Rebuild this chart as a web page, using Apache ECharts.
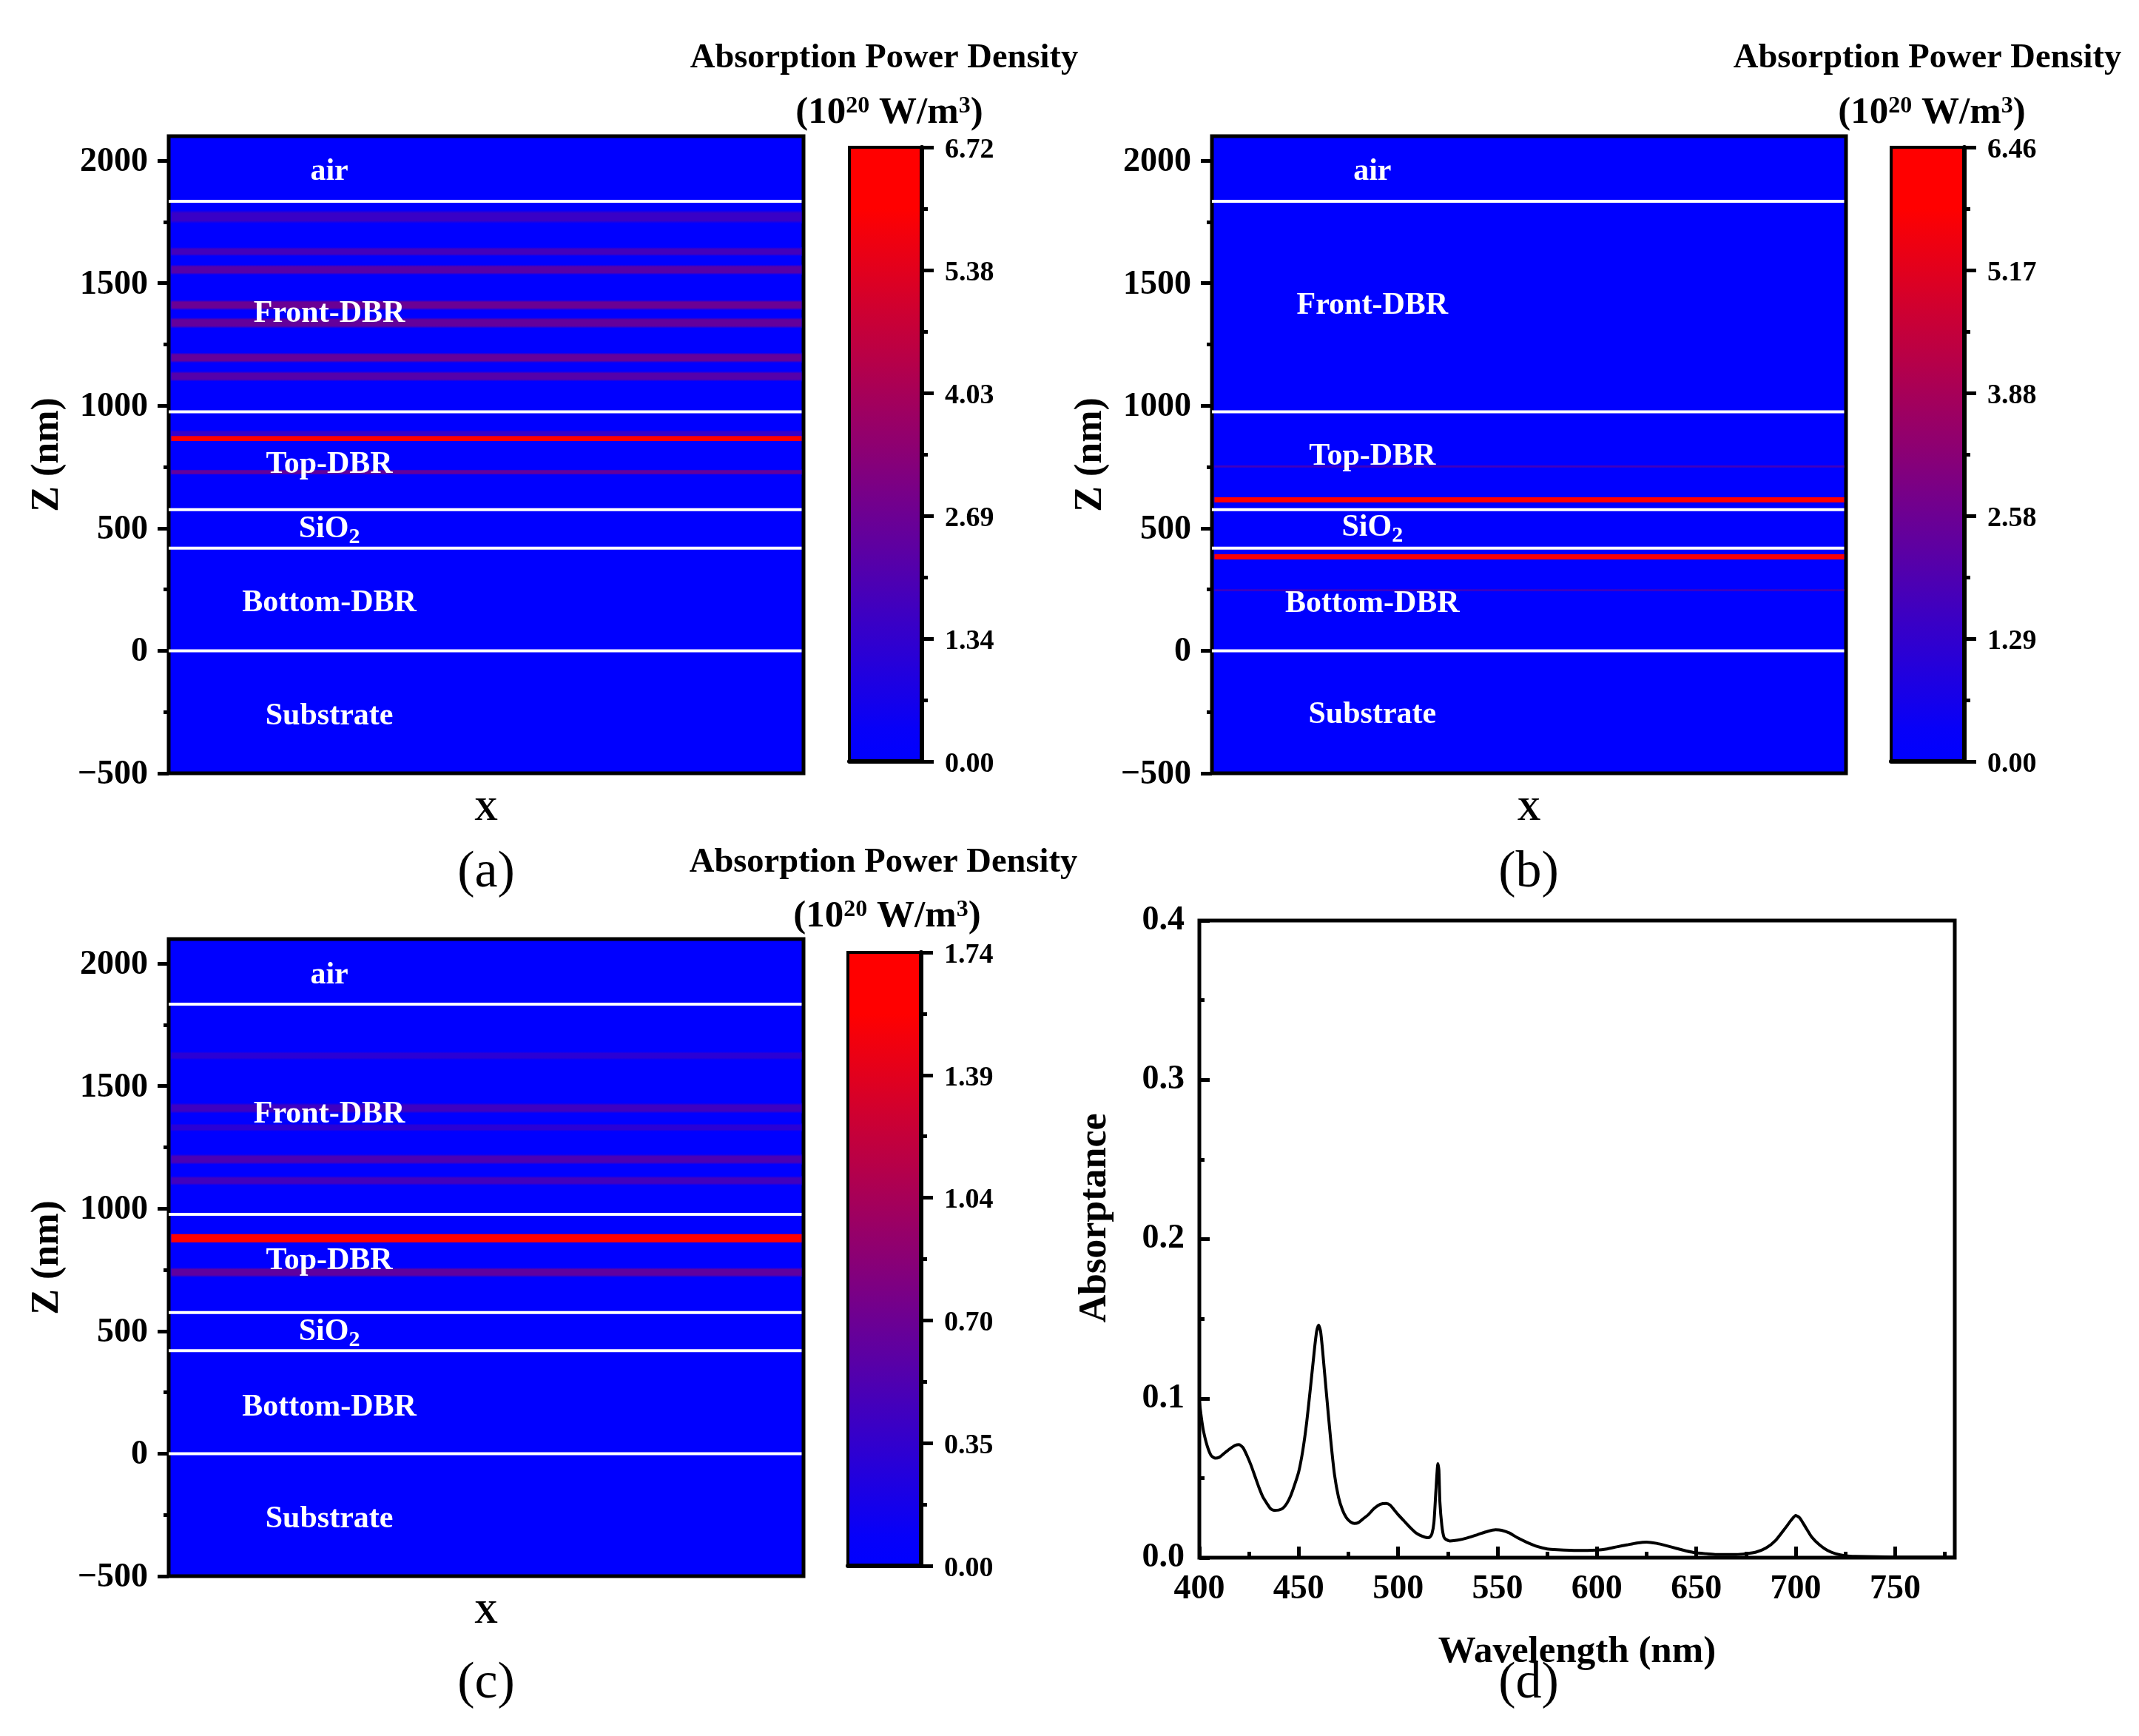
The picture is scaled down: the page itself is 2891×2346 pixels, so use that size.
<!DOCTYPE html>
<html><head><meta charset="utf-8">
<style>html,body{margin:0;padding:0;background:#fff;overflow:hidden}#c{width:2891px;height:2346px}</style>
<script src="https://cdn.jsdelivr.net/npm/echarts@6/dist/echarts.min.js"></script>
</head><body><div id="c"></div>
<script>
// ---------- data ----------
const zMajorTicks = [-500, 0, 500, 1000, 1500, 2000];
const zMinorTicks = [-250, 250, 750, 1250, 1750];
const interfacesA = [1834, 975, 576, 419, 0];
const interfacesB = [1834, 975, 576, 419, 0];
const interfacesC = [1834, 977, 576, 420, 0];

const layerNames = ['air', 'Front-DBR', 'Top-DBR', '{b|SiO}{s|2}', 'Bottom-DBR', 'Substrate'];
const layerZA = [1956, 1374, 760, 497, 195, -269];
const layerZB = [1956, 1409, 793, 503, 190, -261];
const layerZC = [1952, 1383, 787, 496, 189, -267];

const bandZA = [1771, 1629, 1555, 1411, 1338, 1196, 1120, 885, 866, 729];
const bandThickA = [54, 36, 42, 42, 44, 42, 42, 30, 20, 22];
const bandValueA = [1.5, 1.75, 2.2, 2.65, 2.5, 2.5, 2.15, 1.4, 6.72, 2.5];

const bandZB = [752, 616, 383, 247];
const bandThickB = [10, 21, 21, 10];
const bandValueB = [1.6, 6.46, 5.7, 1.5];

const bandZC = [1624, 1410, 1331, 1201, 1114, 879, 740];
const bandThickC = [34, 42, 32, 42, 38, 34, 40];
const bandValueC = [0.3, 0.42, 0.3, 0.5, 0.44, 1.74, 0.62];

const maxA = 6.72, maxB = 6.46, maxC = 1.74;

const wavelength = [400,401,402,404,406,408,410,412,415,418,420,422,424,426,428,430,432,434,436,438,440,442,444,446,448,450,452,454,456,458,459,460,461,462,464,466,468,470,472,474,476,478,480,482,485,488,491,494,496,498,500,503,506,509,512,515,516,517,518,519,520,520.5,521,522,523,524,526,530,535,540,545,549,552,556,560,565,570,575,580,590,600,605,610,615,620,625,630,635,640,645,650,655,660,670,675,680,685,690,695,698,700,702,705,708,712,716,720,725,730,750,780];
const absorptance = [.098,.088,.08,.07,.064,.0625,.063,.065,.068,.0705,.071,.069,.064,.058,.051,.044,.038,.034,.0305,.0297,.0299,.031,.034,.039,.046,.054,.067,.085,.108,.132,.142,.146,.142,.13,.102,.075,.052,.038,.03,.025,.0225,.0215,.022,.024,.027,.031,.0335,.034,.033,.03,.027,.023,.019,.0155,.0135,.0125,.013,.015,.022,.042,.059,.055,.035,.02,.013,.0115,.0105,.011,.0125,.0145,.0165,.0175,.0172,.0155,.0125,.0095,.007,.0055,.005,.0045,.0048,.0055,.0068,.008,.0092,.0098,.009,.0075,.0058,.0042,.003,.0025,.002,.002,.0025,.0035,.006,.011,.019,.024,.0265,.025,.019,.013,.008,.0045,.0025,.0012,.0008,.0004,.0003];
const wlMajorTicks = [400,450,500,550,600,650,700,750];
const wlMinorTicks = [425,475,525,575,625,675,725,775];
const absMajorTicks = [0,0.1,0.2,0.3,0.4];
const absMinorTicks = [0.05,0.15,0.25,0.35];

// ---------- styling ----------
const SERIF = '"Liberation Serif","Times New Roman",serif';
const stripX = [0.004, 0.997];
function mapColor(t){
  const f = Math.max(0, Math.min(1, (t - 0.03) / 0.87));
  const r = Math.round(255 * f);
  return 'rgb(' + r + ',0,' + (255 - r) + ')';
}
const BLUE = mapColor(0);
const grids = [], xAxes = [], yAxes = [], series = [], titles = [];
const tickCommon = {lineStyle:{color:'#000',width:5}};

function titleText(text, x, y, style){
  titles.push({text:text, left:x, top:y, textAlign:'center', textVerticalAlign:'middle',
    textStyle:Object.assign({fontFamily:SERIF,color:'#000',fontWeight:'bold'}, style)});
}

function hiddenAxisBase(){ return {axisLine:{show:false},splitLine:{show:false},axisLabel:{show:false},axisTick:{show:false},z:3}; }

function addFieldPanel(o){
  const gi = grids.length;
  grids.push({left:o.left, top:o.top, width:o.w, height:o.h, show:true, backgroundColor:BLUE,
    borderColor:'#000', borderWidth:5});
  const xi = xAxes.length, yi = yAxes.length;
  xAxes.push(Object.assign(hiddenAxisBase(), {gridIndex:gi,type:'value',min:0,max:1,name:'X',nameLocation:'middle',
    nameGap:30, nameTextStyle:{fontFamily:SERIF,fontWeight:'bold',fontSize:44,color:'#000'}}));
  yAxes.push({gridIndex:gi,type:'value',min:-500,max:2100,position:'left',z:3,
    name:'Z (nm)',nameLocation:'middle',nameGap:137,
    nameTextStyle:{fontFamily:SERIF,fontWeight:'bold',fontSize:52,color:'#000'},
    axisLine:{show:false},splitLine:{show:false},
    axisTick:Object.assign({show:true,length:15,customValues:zMajorTicks},tickCommon),
    axisLabel:{show:true,customValues:zMajorTicks,margin:28,verticalAlign:'top',lineHeight:4,fontFamily:SERIF,fontWeight:'bold',fontSize:46,color:'#000',
      formatter:v=>v<0?'\u2212'+Math.abs(v):String(v)}});
  yAxes.push(Object.assign(hiddenAxisBase(), {gridIndex:gi,type:'value',min:-500,max:2100,position:'left',
    axisTick:Object.assign({show:true,length:7,customValues:zMinorTicks},tickCommon)}));

  const max = o.max;
  series.push({type:'custom',name:'bands',xAxisIndex:xi,yAxisIndex:yi,silent:true,z:3,
    data:o.bandZ.map((z,i)=>[z,o.bandThick[i],o.bandValue[i]]),encode:{y:0},
    renderItem:(p,api)=>{
      const z=api.value(0),th=api.value(1),v=api.value(2);
      const a=api.coord([stripX[0],z+th/2]),b=api.coord([stripX[1],z-th/2]);
      const col=mapColor(v/max);
      const fill=v/max>0.8?col:new echarts.graphic.LinearGradient(0,0,0,1,[
        {offset:0,color:BLUE},{offset:0.22,color:col},{offset:0.78,color:col},{offset:1,color:BLUE}]);
      return {type:'rect',shape:{x:a[0],y:a[1],width:b[0]-a[0],height:b[1]-a[1]},style:{fill:fill}};
    }});
  series.push({type:'custom',name:'interfaces',xAxisIndex:xi,yAxisIndex:yi,silent:true,z:4,
    data:o.interfaces.map(z=>[z]),encode:{y:0},
    renderItem:(p,api)=>{
      const z=api.value(0),a=api.coord([0,z]),b=api.coord([stripX[1],z]);
      return {type:'line',shape:{x1:a[0],y1:a[1],x2:b[0],y2:b[1]},style:{stroke:'#fff',lineWidth:4}};
    }});
  series.push({type:'custom',name:'layers',xAxisIndex:xi,yAxisIndex:yi,silent:true,z:5,
    data:o.layerZ.map((z,i)=>[z,i]),encode:{y:0},
    renderItem:(p,api)=>{
      const c=api.coord([0.253,api.value(0)]);
      return {type:'text',x:c[0],y:c[1],style:{text:layerNames[api.value(1)],align:'center',verticalAlign:'middle',
        fill:'#fff',fontFamily:SERIF,fontWeight:'bold',fontSize:42,
        rich:{b:{fontFamily:SERIF,fontWeight:'bold',fontSize:42,fill:'#fff'},
              s:{fontFamily:SERIF,fontWeight:'bold',fontSize:30,fill:'#fff',padding:[22,0,0,0]}}}};
    }});

  // colour bar
  const cg = grids.length;
  grids.push({left:o.barLeft,top:o.barTop,width:o.barW,height:o.barH,show:true,borderColor:'#000',borderWidth:4,z:2});
  const cx = xAxes.length, cy = yAxes.length;
  xAxes.push({gridIndex:cg,type:'value',min:0,max:1,z:3,axisLine:{show:true,onZero:false,lineStyle:{color:'#000',width:6}},
    axisTick:{show:false},axisLabel:{show:false},splitLine:{show:false}});
  yAxes.push({gridIndex:cg,type:'value',min:0,max:max,interval:max/5,position:'right',z:3,
    axisLine:{show:true,onZero:false,lineStyle:{color:'#000',width:6}},splitLine:{show:false},
    axisTick:Object.assign({show:true,length:16},tickCommon),
    minorTick:{show:true,splitNumber:2,length:8,lineStyle:{color:'#000',width:5}},
    axisLabel:{show:true,margin:31,verticalAlign:'top',lineHeight:8,fontFamily:SERIF,fontWeight:'bold',fontSize:38,color:'#000',formatter:v=>v.toFixed(2)}});
  series.push({type:'custom',name:'colorbar',xAxisIndex:cx,yAxisIndex:cy,silent:true,z:1,
    data:[[0,max]],encode:{y:[0,1]},
    renderItem:(p,api)=>{
      const a=api.coord([0,api.value(1)]),b=api.coord([1,api.value(0)]);
      const stops=[];
      for(let i=0;i<=20;i++) stops.push({offset:i/20,color:mapColor(1-i/20)});
      return {type:'rect',shape:{x:a[0],y:a[1],width:b[0]-a[0],height:b[1]-a[1]},
        style:{fill:new echarts.graphic.LinearGradient(0,0,0,1,stops)}};
    }});

  titleText('Absorption Power Density',o.t1x,o.t1y,{fontSize:46.5});
  titleText('(10{sup|20} W/m{sup|3})',o.t2x,o.t2y,{fontSize:51,rich:{sup:{fontFamily:SERIF,fontWeight:'bold',fontSize:32,color:'#000',verticalAlign:'top'}}});
  titleText(o.tag,o.tagX,o.tagY,{fontSize:70,fontWeight:'normal'});
}

addFieldPanel({left:228,top:184,w:858,h:861,max:maxA,interfaces:interfacesA,layerZ:layerZA,
  bandZ:bandZA,bandThick:bandThickA,bandValue:bandValueA,
  barLeft:1148,barTop:199,barW:98,barH:830,t1x:1190,t1y:74,t2x:1197,t2y:148,tag:'(a)',tagX:652,tagY:1175});
addFieldPanel({left:1638,top:184,w:857,h:861,max:maxB,interfaces:interfacesB,layerZ:layerZB,
  bandZ:bandZB,bandThick:bandThickB,bandValue:bandValueB,
  barLeft:2556,barTop:199,barW:99,barH:830,t1x:2600,t1y:74,t2x:2606,t2y:148,tag:'(b)',tagX:2061,tagY:1175});
addFieldPanel({left:228,top:1269,w:858,h:861,max:maxC,interfaces:interfacesC,layerZ:layerZC,
  bandZ:bandZC,bandThick:bandThickC,bandValue:bandValueC,
  barLeft:1146,barTop:1287,barW:99,barH:829,t1x:1189,t1y:1161,t2x:1194,t2y:1234,tag:'(c)',tagX:652,tagY:2271});

// panel (d)
const gd = grids.length;
grids.push({left:1621,top:1244,width:1021,height:861,show:true,borderColor:'#000',borderWidth:5});
const xd = xAxes.length, yd = yAxes.length;
xAxes.push({gridIndex:gd,type:'value',min:400,max:780,z:3,name:'Wavelength (nm)',nameLocation:'middle',nameGap:102,
  nameTextStyle:{fontFamily:SERIF,fontWeight:'bold',fontSize:51,color:'#000'},
  axisLine:{show:false},splitLine:{show:false},
  axisTick:Object.assign({show:true,inside:true,length:15,customValues:wlMajorTicks},tickCommon),
  axisLabel:{show:true,customValues:wlMajorTicks,margin:20,fontFamily:SERIF,fontWeight:'bold',fontSize:46,color:'#000'}});
xAxes.push(Object.assign(hiddenAxisBase(),{gridIndex:gd,type:'value',min:400,max:780,position:'bottom',
  axisTick:Object.assign({show:true,inside:true,length:8,customValues:wlMinorTicks},tickCommon)}));
yAxes.push({gridIndex:gd,type:'value',min:0,max:0.4,position:'left',z:3,
  axisLine:{show:false},splitLine:{show:false},
  axisTick:Object.assign({show:true,inside:true,length:14,customValues:absMajorTicks},tickCommon),
  axisLabel:{show:true,customValues:absMajorTicks,margin:20,fontFamily:SERIF,fontWeight:'bold',fontSize:46,color:'#000',formatter:v=>v.toFixed(1)}});
yAxes.push(Object.assign(hiddenAxisBase(),{gridIndex:gd,type:'value',min:0,max:0.4,position:'left',
  axisTick:Object.assign({show:true,inside:true,length:7,customValues:absMinorTicks},tickCommon)}));
series.push({type:'line',name:'Absorptance',xAxisIndex:xd,yAxisIndex:yd,showSymbol:false,symbol:'none',smooth:0.2,
  lineStyle:{color:'#000',width:4,join:'round'},z:4,silent:true,
  data:wavelength.map((w,i)=>[w,absorptance[i]])});
titleText('(d)',2061,2271,{fontSize:70,fontWeight:'normal'});

const chart = echarts.init(document.getElementById('c'),null,{renderer:'canvas',width:2891,height:2346});
chart.setOption({
  animation:false,backgroundColor:'#fff',
  title:titles,grid:grids,xAxis:xAxes,yAxis:yAxes,series:series,tooltip:{show:false},
  graphic:[{type:'text',x:1481,y:1646,rotation:Math.PI/2,z:10,
    style:{text:'Absorptance',align:'center',verticalAlign:'middle',fill:'#000',fontFamily:SERIF,fontWeight:'bold',fontSize:52}}]
});
</script></body></html>
